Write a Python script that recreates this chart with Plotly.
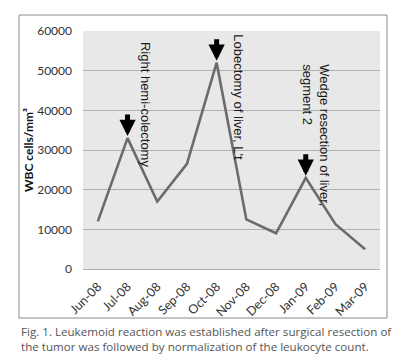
import plotly.graph_objects as go

months = ["Jun-08", "Jul-08", "Aug-08", "Sep-08", "Oct-08", "Nov-08", "Dec-08", "Jan-09", "Feb-09", "Mar-09"]
wbc = [12000, 33000, 17000, 26500, 52000, 12500, 9000, 23000, 11300, 5000]
y_ticks = [0, 10000, 20000, 30000, 40000, 50000, 60000]
y_title = "<b>WBC cells/mm³</b>"

events = [
    ("Jul-08", "Right hemi-colectomy"),
    ("Oct-08", "Lobectomy of liver, L't"),
    ("Jan-09", "Wedge resection of liver,<br>segment 2"),
]
caption_lines = [
    "Fig. 1. Leukemoid reaction was established after surgical resection of",
    "the tumor was followed by normalization of the leukocyte count.",
]

W, H = 406, 364
L, R, T, B = 83, 26, 31, 95
PW, PH = W - L - R, H - T - B

def px(x):
    return (x - L) / PW

def py(y):
    return (H - B - y) / PH

fig = go.Figure()
fig.add_trace(go.Scatter(
    x=months, y=wbc, mode="lines",
    line=dict(color="#6b6b6b", width=2.6),
    hoverinfo="skip", showlegend=False,
))

val = dict(zip(months, wbc))
annotations = []
text_pos = {
    "Jul-08": dict(xshift=18, top=40),
    "Oct-08": dict(xshift=22, top=32),
    "Jan-09": dict(xshift=10, top=62),
}
for m, label in events:
    annotations.append(dict(
        x=m, y=val[m], xref="x", yref="y", text="",
        showarrow=True, arrowhead=2, arrowsize=0.65, arrowwidth=5,
        arrowcolor="#000000", ax=0, ay=-25, standoff=2,
    ))
    tp = text_pos[m]
    annotations.append(dict(
        x=m, xref="x", xshift=tp["xshift"], xanchor="center",
        y=py(tp["top"]), yref="paper", yanchor="top",
        text=label, textangle=90, showarrow=False, align="left",
        font=dict(family="Liberation Sans, Arial", size=13, color="#1a1a1a"),
    ))

annotations.append(dict(
    x=px(28), xref="paper", xanchor="center",
    y=0.5, yref="paper", yanchor="middle",
    text=y_title, textangle=-90, showarrow=False,
    font=dict(family="Lato", size=12, color="#111111"),
))

for i, line in enumerate(caption_lines):
    annotations.append(dict(
        x=px(19), xref="paper", xanchor="left",
        y=py(331 + i * 15), yref="paper", yanchor="middle",
        text=line, showarrow=False,
        font=dict(family="Open Sans", size=11.6, color="#555555"),
    ))

fig.update_layout(
    width=W, height=H,
    margin=dict(l=L, r=R, t=T, b=B, autoexpand=False),
    paper_bgcolor="white",
    plot_bgcolor="#e8e8e8",
    annotations=annotations,
    shapes=[dict(
        type="rect", xref="paper", yref="paper",
        x0=px(19), x1=px(387), y0=py(318), y1=py(15),
        line=dict(color="#8a8a8a", width=1), fillcolor="rgba(0,0,0,0)", layer="below",
    )],
    xaxis=dict(
        type="category", categoryorder="array", categoryarray=months,
        tickangle=-45, showgrid=False, showline=False, ticks="", automargin=False,
        ticklabelstandoff=7,
        tickfont=dict(family="Lato", size=12.5, color="#333333"),
        range=[-0.5, len(months) - 0.5],
    ),
    yaxis=dict(
        range=[0, 60000], tickvals=y_ticks, ticktext=[str(v) for v in y_ticks],
        showgrid=True, gridcolor="#b0b0b0", gridwidth=1, automargin=False,
        zeroline=True, zerolinecolor="#b0b0b0", zerolinewidth=1,
        showline=False, ticks="", ticklabelstandoff=10,
        tickfont=dict(family="Lato", size=12, color="#333333"),
    ),
)

fig.write_html(
    "out.html",
    config={"displayModeBar": False},
    post_script="document.body.style.margin='0';document.body.style.overflow='hidden';",
)
